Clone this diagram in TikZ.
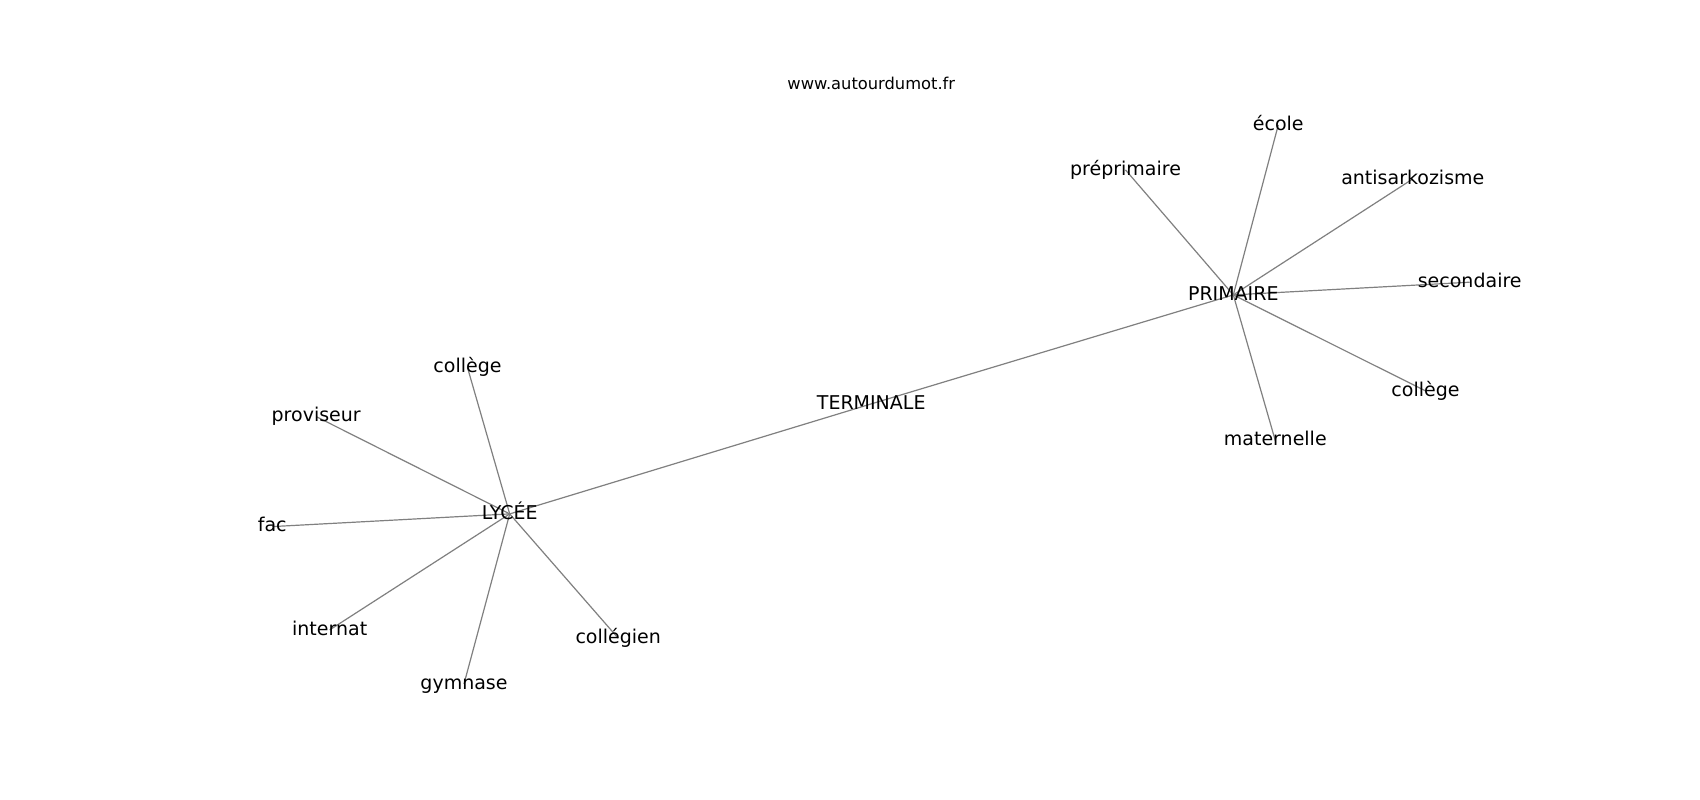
\documentclass[tikz,border=0pt]{standalone}
\usepackage{fontspec}
\setmainfont{DejaVu Sans}
\pgfdeclarelayer{bg}
\pgfsetlayers{bg,main}
\begin{document}
\begin{tikzpicture}[x=1pt,y=-1pt,
  word/.style={font=\fontsize{19}{23}\selectfont, inner sep=0pt, text height=14.4pt, text depth=4.2pt, anchor=center, text=black},
  link/.style={draw=black!50, line width=1.2pt},
  titletext/.style={font=\fontsize{16.3}{19}\selectfont, inner sep=0pt, anchor=base, text=black}]
\useasboundingbox (0,0) rectangle (1700,800);
\node[titletext] (title) at (871.3,89) {www.autourdumot.fr};
% hubs
\node[word] (primaire) at (1233.3,294.9) {PRIMAIRE};
\node[word] (terminale) at (871.2,403.9) {TERMINALE};
\node[word] (lycee) at (509.7,513.9) {LYCÉE};
% PRIMAIRE neighbours
\node[word] (ecole) at (1278.3,124.9) {école};
\node[word] (preprimaire) at (1125.5,169.9) {préprimaire};
\node[word] (antisarko) at (1412.8,178.9) {antisarkozisme};
\node[word] (secondaire) at (1469.7,282.2) {secondaire};
\node[word] (collegeR) at (1425.5,390.9) {collège};
\node[word] (maternelle) at (1275.3,440.6) {maternelle};
% LYCEE neighbours
\node[word] (collegeL) at (467.5,367.6) {collège};
\node[word] (proviseur) at (316.2,416.6) {proviseur};
\node[word] (fac) at (272.2,526.6) {fac};
\node[word] (internat) at (329.7,629.9) {internat};
\node[word] (collegien) at (618.2,638.2) {collégien};
\node[word] (gymnase) at (464,683.9) {gymnase};
\begin{pgfonlayer}{bg}
\fill[white] (0,0) rectangle (1700,800);
\draw[link] (lycee.center) -- (terminale.center);
\draw[link] (terminale.center) -- (primaire.center);
\foreach \n in {ecole,preprimaire,antisarko,secondaire,collegeR,maternelle}
  \draw[link] (primaire.center) -- (\n.center);
\foreach \n in {collegeL,proviseur,fac,internat,collegien,gymnase}
  \draw[link] (lycee.center) -- (\n.center);
\end{pgfonlayer}
\end{tikzpicture}
\end{document}
